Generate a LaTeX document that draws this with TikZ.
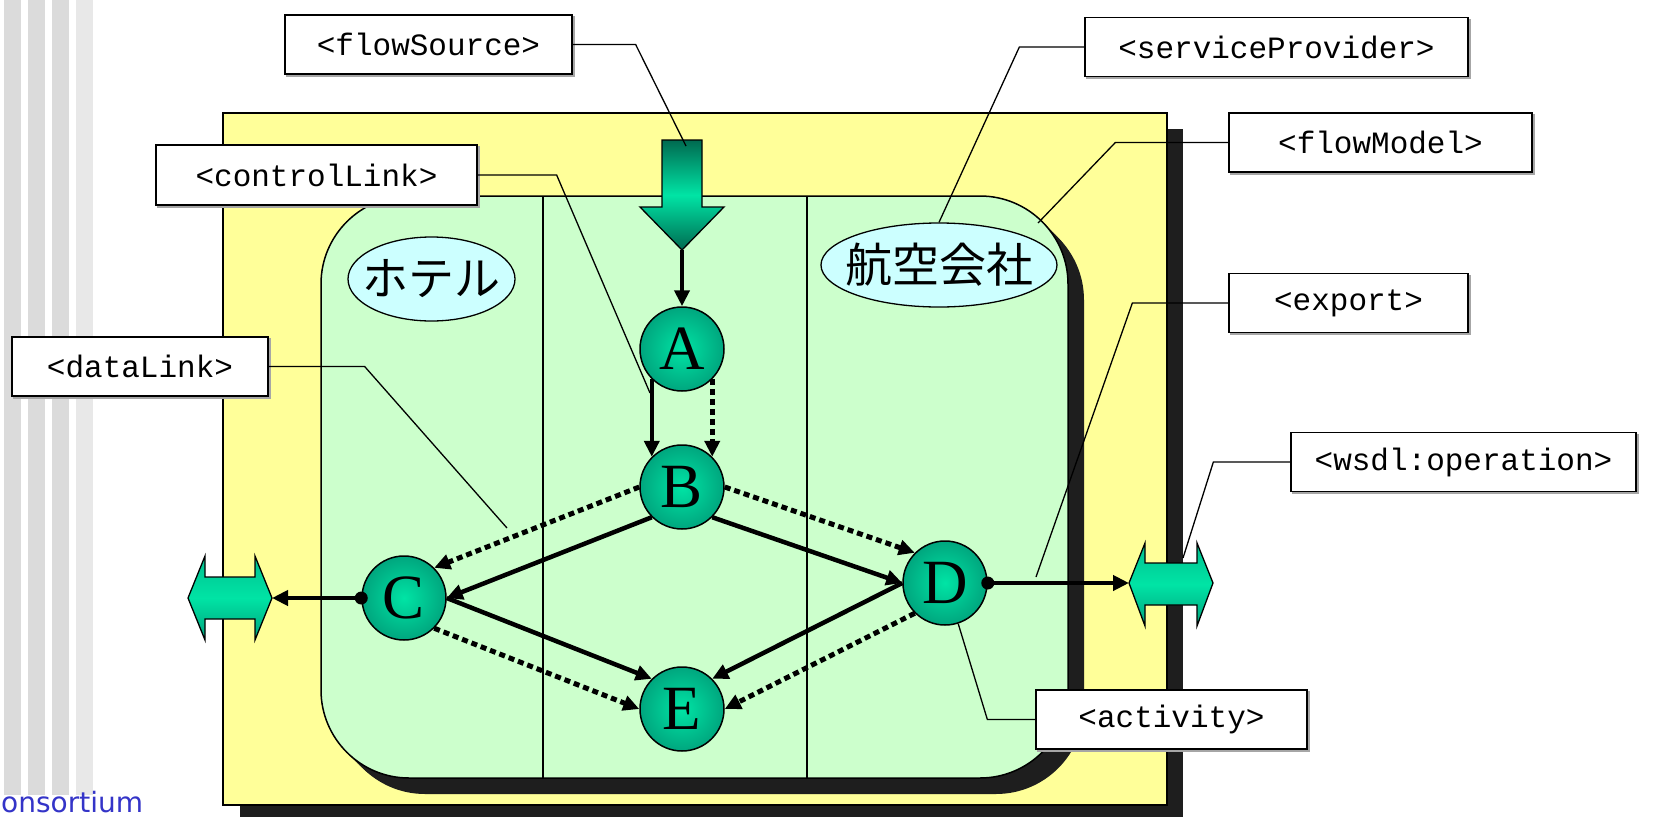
\documentclass[tikz,border=0pt]{standalone}
\usepackage{fontspec}
\setmonofont{Liberation Mono}
\newfontfamily\jpfont{Noto Sans CJK JP}
\newfontfamily\letterfont{Liberation Serif}
\newfontfamily\brandfont{DejaVu Sans}
\usetikzlibrary{arrows.meta,shapes.geometric,shadows}

\definecolor{paleyellow}{HTML}{FFFF99}
\definecolor{palegreen}{HTML}{CCFFCC}
\definecolor{palecyan}{HTML}{CCFFFF}
\definecolor{tealhi}{HTML}{00E4A5}
\definecolor{tealedge}{HTML}{00A67E}
\definecolor{tealdark}{HTML}{006A50}
\definecolor{tealtop}{HTML}{00C08F}
\definecolor{tealbottom}{HTML}{00A27C}
\definecolor{shadowgray}{HTML}{1E1E1E}
\definecolor{stripe}{HTML}{DBDBDB}
\definecolor{stripelight}{HTML}{E8E8E8}
\definecolor{brandblue}{HTML}{3434C8}

\begin{document}
\begin{tikzpicture}[x=1pt,y=-1pt,
  tag/.style={draw=black, line width=1.3pt, fill=white, inner sep=0pt,
    minimum height=59pt, font=\ttfamily\fontsize{31}{31}\selectfont,
    copy shadow={shadow xshift=2pt, shadow yshift=-2pt, fill=gray!70, draw=gray!70}},
  leader/.style={line width=1.3pt},
  activity/.style={circle, draw=black, line width=1.5pt, minimum size=84pt,
    inner sep=0pt, shading=radial, inner color=tealhi, outer color=tealedge,
    font=\letterfont\fontsize{63}{63}\selectfont},
  party/.style={ellipse, draw=black, line width=1.3pt, fill=palecyan, inner sep=0pt},
  partyname/.style={inner sep=0pt, font=\jpfont\fontsize{46}{46}\selectfont},
  ctrl/.style={line width=4.5pt, -{Triangle[length=16pt,width=15pt]}},
  data/.style={line width=5pt, dash pattern=on 6pt off 4pt,
    -{Triangle[length=16pt,width=15pt]}},
  port/.style={draw=black, line width=1.3pt, top color=tealtop,
    bottom color=tealbottom, middle color=tealhi},
]
% page
\fill[white] (0,0) rectangle (1666,817);
\useasboundingbox (0,0) rectangle (1666,817);

% left border stripes and footer
\fill[stripe] (4,0) rectangle (21,795);
\fill[stripe] (28,0) rectangle (45,795);
\fill[stripe] (52,0) rectangle (69,795);
\fill[stripelight] (76,0) rectangle (93,795);
\node[anchor=base west, inner sep=0pt, text=brandblue,
  font=\brandfont\fontsize{28}{28}\selectfont] (brand) at (1,812) {onsortium};

% flow model frame with shadow
\fill[shadowgray] (240,129) rectangle (1183,817);
\draw[line width=1.3pt, fill=paleyellow] (223,113) rectangle (1167,805);

% service provider area, extruded shadow
\foreach \d in {0,2,...,16}
  \fill[shadowgray, rounded corners=88pt] (321+\d,196+\d) rectangle (1068+\d,778+\d);
\draw[line width=1.5pt, fill=palegreen, rounded corners=88pt] (321,196) rectangle (1068,778);
\draw[line width=1.2pt] (543,196) -- (543,778);
\draw[line width=1.2pt] (807,196) -- (807,778);

% providers
\node[party, minimum width=167pt, minimum height=84pt] (hotel) at (431.5,279) {};
\node[partyname] (hotelName) at (hotel.center) {ホテル};
\node[party, minimum width=236pt, minimum height=84pt] (air) at (939,265) {};
\node[partyname, font=\jpfont\fontsize{47}{47}\selectfont] (airName) at (air.center) {航空会社};

% flow source arrow
\shade[draw=black, line width=1.3pt, top color=tealdark, bottom color=tealdark, middle color=tealhi]
  (662,140) -- (702,140) -- (702,207) -- (724,207) -- (682,250) -- (640,207) -- (662,207) -- cycle;
\coordinate (fsTip) at (682,250);
\coordinate (fsBody) at (686,146);

% export ports
\shade[port] (188,598) -- (205,556) -- (205,577) -- (255,577) -- (255,556) -- (272,598)
  -- (255,640) -- (255,619) -- (205,619) -- (205,640) -- cycle;
\coordinate (leftPort) at (272,598);
\shade[port] (1129,583) -- (1145,543) -- (1145,563) -- (1197,563) -- (1197,543) -- (1213,583)
  -- (1197,626) -- (1197,605) -- (1145,605) -- (1145,626) -- cycle;
\coordinate (rightPort) at (1129,583);
\coordinate (rightPortBody) at (1183,558);

% activities
\node[activity] (A) at (682,349) {A};
\node[activity] (B) at (682,487) {B};
\node[activity] (C) at (404,598) {C};
\node[activity] (D) at (945,583) {D};
\node[activity] (E) at (682,709) {E};

% control and data links
\draw[ctrl] (fsTip) -- (A.north);
\draw[ctrl] (A.south west) -- (B.north west);
\draw[data] (A.south east) -- (B.north east);
\draw[ctrl] (B.south west) -- (C.east);
\draw[data] (B.west) -- (C.north east);
\draw[ctrl] (B.south east) -- (D.west);
\draw[data] (B.east) -- (D.north west);
\draw[ctrl] (C.east) -- (E.north west);
\draw[data] (C.south east) -- (E.west);
\draw[ctrl] (D.west) -- (E.north east);
\draw[data] (D.south west) -- (E.east);
\fill (C.west) circle[radius=6.5pt];
\draw[ctrl] (C.west) -- (leftPort);
\fill (D.east) circle[radius=6.5pt];
\draw[ctrl] (D.east) -- (rightPort);

% label tags
\node[tag, minimum width=287pt] (fs) at (428.5,44.5) {<flowSource>};
\node[tag, minimum width=383pt] (sp) at (1276.5,47) {<serviceProvider>};
\node[tag, minimum width=303pt] (fm) at (1380.5,142.5) {<flowModel>};
\node[tag, minimum width=321pt, minimum height=60pt] (cl) at (316.5,175) {<controlLink>};
\node[tag, minimum width=239pt] (ex) at (1348.5,303) {<export>};
\node[tag, minimum width=256pt] (dl) at (140,366.5) {<dataLink>};
\node[tag, minimum width=345pt] (wo) at (1463.5,462) {<wsdl:operation>};
\node[tag, minimum width=271pt] (ac) at (1171.5,719.5) {<activity>};

% leader lines
\coordinate (fmPt) at (1038,223);
\coordinate (clPt) at (650,393);
\coordinate (dlPt) at (507,528);
\coordinate (exPt) at (1036,577);
\draw[leader] (fs.east) -- ++(63,0) -- (fsBody);
\draw[leader] (sp.west) -- ++(-65,0) -- (air.north);
\draw[leader] (fm.west) -- ++(-113,0) -- (fmPt);
\draw[leader] (cl.east) -- ++(79,0) -- (clPt);
\draw[leader] (dl.east) -- ++(96,0) -- (dlPt);
\draw[leader] (ex.west) -- ++(-96,0) -- (exPt);
\draw[leader] (wo.west) -- ++(-77,0) -- (rightPortBody);
\draw[leader] (ac.west) -- ++(-48,0) -- (D.-72);
\end{tikzpicture}
\end{document}
